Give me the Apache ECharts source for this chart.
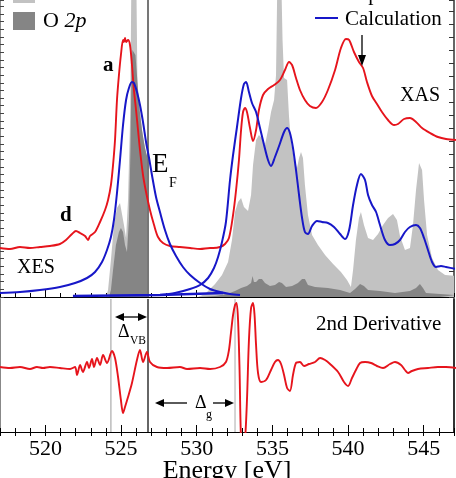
<!DOCTYPE html>
<html>
<head>
<meta charset="utf-8">
<script src="https://cdn.jsdelivr.net/npm/echarts@6/dist/echarts.min.js"></script>
<style>html,body{margin:0;padding:0;background:#fff}#c{width:456px;height:478px}</style>
</head>
<body>
<div id="c"></div>
<script>
// ---- data (energy in eV, intensity in arbitrary units) ----
const xTickLabels = [520, 525, 530, 535, 540, 545];
const energyEF = 526.78;
const energyVB = 524.33;
const energyCB = 532.53;

const expSpectrum = [[517.00,49],[517.66,48],[518.32,50],[518.98,49],[519.64,50],[520.30,51],[520.96,53],[521.36,57],[521.76,63],[522.02,66],[522.29,64],[522.62,61],[522.82,57],[522.95,61],[523.28,65],[523.61,75],[523.94,87],[524.14,97],[524.33,112],[524.47,132],[524.60,157],[524.73,197],[524.86,222],[524.99,242],[525.13,257],[525.19,255],[525.26,259],[525.33,255],[525.46,257],[525.59,252],[525.72,232],[525.85,207],[525.99,187],[526.12,167],[526.25,147],[526.45,122],[526.65,105],[526.91,87],[527.18,72],[527.44,60],[527.77,54],[528.23,51],[528.89,50],[529.56,49],[530.22,48],[530.88,49],[531.08,49],[531.54,50],[531.87,53],[532.13,59],[532.40,82],[532.60,107],[532.79,137],[532.93,167],[533.06,185],[533.19,189],[533.32,185],[533.52,169],[533.72,156],[533.92,167],[534.11,187],[534.38,202],[534.71,208],[535.11,212],[535.50,217],[535.83,227],[536.10,235],[536.30,232],[536.56,219],[536.82,207],[537.15,197],[537.48,191],[537.88,189],[538.28,195],[538.67,207],[539.14,227],[539.53,249],[539.86,258],[540.07,257],[540.39,245],[540.72,235],[540.99,229],[541.25,215],[541.58,201],[541.91,193],[542.24,185],[542.64,177],[543.04,172],[543.30,173],[543.70,178],[544.09,179],[544.49,175],[544.89,169],[545.42,164],[545.94,160],[546.47,158],[547.13,157]];

const calcXES = [[517.00,4],[518.32,5],[519.64,7],[520.96,10],[521.96,14],[522.75,19],[523.28,25],[523.74,35],[524.07,47],[524.33,60],[524.53,77],[524.73,104],[524.93,137],[525.13,172],[525.33,197],[525.52,209],[525.72,215],[525.85,214],[526.05,205],[526.25,192],[526.45,175],[526.65,155],[526.85,139],[527.04,122],[527.31,100],[527.57,85],[527.90,67],[528.23,53],[528.63,41],[529.09,30],[529.56,22],[530.22,14],[530.88,8],[531.54,5],[532.20,3],[532.86,2]];

const calcXAS = [[527.57,2],[528.56,4],[529.56,8],[530.22,12],[530.75,19],[531.14,29],[531.41,40],[531.67,55],[531.93,75],[532.20,117],[532.40,142],[532.66,170],[532.93,199],[533.12,213],[533.26,215],[533.45,205],[533.65,194],[533.92,185],[534.18,169],[534.45,152],[534.71,137],[534.91,131],[535.17,140],[535.44,151],[535.77,165],[535.97,169],[536.16,164],[536.36,149],[536.56,127],[536.76,102],[536.96,79],[537.15,65],[537.35,63],[537.62,71],[537.95,76],[538.28,75],[538.67,74],[539.07,70],[539.47,63],[539.80,58],[540.07,67],[540.33,92],[540.59,112],[540.85,123],[541.12,117],[541.32,102],[541.58,92],[541.85,85],[542.11,72],[542.44,57],[542.77,52],[543.10,53],[543.43,57],[543.76,65],[544.09,70],[544.49,72],[544.75,69],[545.02,59],[545.28,47],[545.55,35],[545.81,30],[546.14,31],[546.47,30],[547.13,28]];

const calcBase = [[521.82,1],[527.57,2],[531.74,4]];

const totalXES = [[524.00,0],[524.14,7],[524.33,37],[524.53,72],[524.73,89],[524.93,94],[525.06,92],[525.19,72],[525.33,59],[525.46,97],[525.60,180],[525.69,330],[526.00,330],[526.08,215],[526.25,185],[526.45,160],[526.65,144],[526.75,139],[526.76,0]];

const o2pXES = [[524.20,0],[524.33,7],[524.47,27],[524.66,52],[524.86,65],[524.99,69],[525.13,65],[525.26,52],[525.39,45],[525.52,77],[525.62,147],[525.69,227],[525.75,247],[525.85,249],[525.95,242],[526.05,222],[526.19,192],[526.38,167],[526.58,149],[526.75,139],[526.76,0]];

const totalXAS = [[530.08,0],[530.55,3],[531.21,13],[531.67,22],[532.07,35],[532.33,57],[532.53,85],[532.73,95],[532.93,99],[533.12,90],[533.39,86],[533.59,102],[533.72,132],[533.92,157],[534.11,162],[534.31,159],[534.51,152],[534.71,167],[534.91,185],[535.11,197],[535.24,222],[535.34,330],[535.57,330],[535.67,257],[535.77,219],[535.97,217],[536.10,180],[536.23,155],[536.43,137],[536.63,129],[536.76,139],[536.89,145],[537.02,139],[537.15,112],[537.35,82],[537.62,62],[538.01,52],[538.48,42],[539.01,33],[539.53,25],[539.93,17],[540.19,10],[540.33,27],[540.52,57],[540.72,79],[540.85,85],[541.05,72],[541.32,59],[541.65,57],[541.98,63],[542.31,72],[542.64,79],[542.97,83],[543.23,77],[543.43,61],[543.76,47],[544.09,49],[544.29,72],[544.49,107],[544.69,134],[544.89,127],[545.02,97],[545.22,62],[545.55,39],[545.94,27],[546.41,22],[547.13,21]];

const o2pXAS = [[530.22,0],[531.21,1],[532.00,3],[532.53,6],[532.93,9],[533.32,11],[533.59,14],[533.69,21],[533.78,15],[533.92,15],[534.11,18],[534.31,18],[534.51,14],[534.84,11],[535.17,12],[535.44,15],[535.63,14],[535.90,10],[536.30,11],[536.69,14],[536.96,18],[537.15,18],[537.35,12],[537.82,10],[538.67,9],[539.47,7],[540.13,4],[540.46,8],[540.79,13],[541.05,11],[541.32,7],[542.11,6],[543.10,4],[544.09,6],[544.49,9],[544.75,13],[544.95,9],[545.15,4],[546.08,3],[547.13,2]];

const deriv2 = [[517.00,65],[517.66,64],[518.32,65],[518.98,63],[519.44,65],[519.84,64],[520.30,65],[520.96,64],[521.63,63],[521.96,65],[522.09,57],[522.29,67],[522.48,60],[522.75,70],[522.88,64],[523.08,73],[523.21,65],[523.41,74],[523.61,67],[523.81,77],[524.07,69],[524.40,81],[524.60,74],[524.80,55],[524.99,32],[525.13,19],[525.26,25],[525.46,35],[525.72,49],[526.05,72],[526.25,82],[526.45,70],[526.71,80],[526.91,70],[527.37,65],[528.04,64],[528.89,65],[529.36,63],[530.22,64],[530.88,63],[531.54,65],[531.93,70],[532.13,82],[532.26,99],[532.40,117],[532.53,127],[532.63,129],[532.73,112],[532.83,62],[532.93,-8],[533.06,-18],[533.19,-8],[533.32,32],[533.45,92],[533.59,124],[533.72,129],[533.82,117],[533.92,87],[534.05,59],[534.25,50],[534.58,52],[534.91,62],[535.17,70],[535.37,72],[535.57,68],[535.77,57],[535.97,44],[536.16,41],[536.36,57],[536.56,69],[536.82,70],[537.09,66],[537.42,68],[537.82,70],[538.15,74],[538.48,72],[538.81,68],[539.34,60],[539.73,50],[540.00,46],[540.26,54],[540.52,62],[540.79,69],[541.12,70],[541.52,69],[541.91,66],[542.31,64],[542.77,68],[543.10,70],[543.50,67],[543.76,62],[543.96,59],[544.22,61],[544.62,63],[545.28,64],[545.94,65],[546.47,65],[547.13,64]];

// ---- styles ----
const RED = '#e6141c', BLUE = '#1717c8', LGRAY = '#c2c2c2', DGRAY = '#858585';
const SERIF = '"Liberation Serif", "Times New Roman", serif';

const chart = echarts.init(document.getElementById('c'), null, {renderer: 'canvas'});

function area(data, color) {
  return {type: 'line', xAxisIndex: 0, yAxisIndex: 0, data: data, symbol: 'none',
    lineStyle: {width: 0, color: color}, areaStyle: {color: color, opacity: 1}, silent: true, z: 1};
}
function curve(data, color, w, xi, yi, z) {
  return {type: 'line', xAxisIndex: xi, yAxisIndex: yi, data: data, symbol: 'none', smooth: 0.3,
    lineStyle: {width: w, color: color}, silent: true, z: z || 3};
}
function vline(e, top, color, w, xi, yi) {
  return {type: 'line', xAxisIndex: xi, yAxisIndex: yi, data: [[e, 0], [e, top]], symbol: 'none',
    lineStyle: {width: w, color: color}, silent: true, z: 2};
}

const xBase = {type: 'value', min: 517, max: 547, splitLine: {show: false}};
function txt(text, x, y, size, opts) {
  opts = opts || {};
  return {type: 'text', z: 100, style: Object.assign({text: text, x: x, y: y, fontSize: size, fontFamily: SERIF,
    fill: '#000', align: opts.align || 'left', verticalAlign: 'middle', textAlign: opts.align || 'left', textVerticalAlign: 'middle',
    fontWeight: opts.bold ? 'bold' : 'normal', fontStyle: opts.italic ? 'italic' : 'normal'}, opts.extra || {})};
}
function arrowHead(pts) { return {type: 'polygon', z: 100, shape: {points: pts}, style: {fill: '#000'}}; }
function seg(x1, y1, x2, y2, w, color) { return {type: 'line', z: 100, shape: {x1: x1, y1: y1, x2: x2, y2: y2}, style: {stroke: color || '#000', lineWidth: w || 1.3}}; }

const option = {
  backgroundColor: '#fff',
  animation: false,
  grid: [
    {left: 0, right: 2, top: 0, height: 297},
    {left: 0, right: 2, top: 299, height: 133}
  ],
  xAxis: [
    Object.assign({}, xBase, {gridIndex: 0, position: 'bottom', interval: 1,
      axisLine: {show: true, lineStyle: {color: '#000', width: 1}},
      axisTick: {show: true, inside: true, length: 4, lineStyle: {color: '#000'}}, axisLabel: {show: false}}),
    Object.assign({}, xBase, {gridIndex: 0, position: 'bottom', axisLine: {show: false},
      axisTick: {show: true, inside: true, length: 7, customValues: xTickLabels, lineStyle: {color: '#000'}}, axisLabel: {show: false}}),
    Object.assign({}, xBase, {gridIndex: 1, position: 'bottom', interval: 1,
      axisLine: {show: true, lineStyle: {color: '#000', width: 1}},
      axisTick: {show: true, inside: true, length: 4, lineStyle: {color: '#000'}}, axisLabel: {show: false}}),
    Object.assign({}, xBase, {gridIndex: 1, position: 'bottom', axisLine: {show: false},
      axisTick: {show: true, inside: true, length: 7, customValues: xTickLabels, lineStyle: {color: '#000'}},
      axisLabel: {show: true, customValues: xTickLabels, margin: 6, fontSize: 22, fontFamily: SERIF, color: '#000'}}),
    Object.assign({}, xBase, {gridIndex: 1, position: 'top', interval: 1,
      axisLine: {show: false},
      axisTick: {show: true, inside: true, length: 4, lineStyle: {color: '#000'}}, axisLabel: {show: false}})
  ],
  yAxis: [
    {gridIndex: 0, type: 'value', min: 0, max: 297, show: false},
    {gridIndex: 0, type: 'value', min: 0, max: 38.82, interval: 1, position: 'left',
      axisLine: {show: true, lineStyle: {color: '#666', width: 1.5}},
      axisTick: {show: true, inside: true, length: 4, lineStyle: {color: '#444'}}, axisLabel: {show: false}, splitLine: {show: false}},
    {gridIndex: 0, type: 'value', min: 0, max: 22.85, interval: 1, position: 'right',
      axisLine: {show: true, lineStyle: {color: '#333', width: 1.5}},
      axisTick: {show: true, inside: true, length: 5, lineStyle: {color: '#333'}}, axisLabel: {show: false}, splitLine: {show: false}},
    {gridIndex: 1, type: 'value', min: 0, max: 133, show: false},
    {gridIndex: 1, type: 'value', min: 0, max: 133, position: 'left',
      axisLine: {show: true, lineStyle: {color: '#888', width: 2}}, axisTick: {show: false}, axisLabel: {show: false}, splitLine: {show: false}},
    {gridIndex: 1, type: 'value', min: 0, max: 133, position: 'right',
      axisLine: {show: true, lineStyle: {color: '#333', width: 2}}, axisTick: {show: false}, axisLabel: {show: false}, splitLine: {show: false}}
  ],
  series: [
    area(totalXES, LGRAY),
    area(totalXAS, LGRAY),
    Object.assign(area(o2pXES, DGRAY), {z: 2}),
    Object.assign(area(o2pXAS, DGRAY), {z: 2}),
    vline(energyEF, 297, '#777', 2, 0, 0),
    curve(expSpectrum, RED, 1.9, 0, 0, 3),
    curve(calcXES, BLUE, 2, 0, 0, 4),
    curve(calcXAS, BLUE, 2, 0, 0, 4),
    Object.assign(curve(calcBase, BLUE, 2.5, 0, 0, 4), {smooth: false}),
    vline(energyEF, 133, '#666', 2, 2, 3),
    vline(energyVB, 133, '#999', 1, 2, 3),
    vline(energyCB, 133, '#aaa', 1, 2, 3),
    curve(deriv2, RED, 1.9, 2, 3, 3)
  ],
  graphic: [
    // legend
    {type: 'rect', z: 100, shape: {x: 13, y: -15, width: 22, height: 18}, style: {fill: LGRAY}},
    txt('Total', 43, -7, 22, {bold: true}),
    {type: 'rect', z: 100, shape: {x: 13, y: 12, width: 22, height: 18}, style: {fill: DGRAY}},
    {type: 'text', z: 100, style: {text: '{r|O }{i|2p}', x: 43, y: 21, verticalAlign: 'middle', textVerticalAlign: 'middle',
      rich: {r: {fontSize: 22, fontFamily: SERIF, fill: '#000'}, i: {fontSize: 22, fontFamily: SERIF, fontStyle: 'italic', fill: '#000'}}}},
    seg(315, -6, 338, -6, 2, RED),
    txt('Experiment', 345, -6, 21),
    seg(315, 18, 338, 18, 2, BLUE),
    txt('Calculation', 345, 19, 21),
    // annotations upper
    seg(362, 35, 362, 58, 1.3),
    arrowHead([[358, 55], [366, 55], [362, 66]]),
    txt('XAS', 400, 96, 20),
    txt('XES', 17, 268, 20),
    txt('a', 103, 66, 21, {bold: true}),
    txt('d', 60, 216, 21, {bold: true}),
    txt('E', 152, 165, 27),
    txt('F', 169, 183, 14),
    // annotations lower
    txt('2nd Derivative', 316, 324, 21),
    seg(119, 317, 143, 317, 1.3),
    arrowHead([[115, 317], [124, 313], [124, 321]]),
    arrowHead([[147, 317], [138, 313], [138, 321]]),
    txt('\u0394', 118, 332, 18),
    txt('VB', 130, 341, 11.5),
    seg(162, 403, 187, 403, 1.3),
    arrowHead([[155, 403], [164, 399], [164, 407]]),
    seg(213, 403, 227, 403, 1.3),
    arrowHead([[234, 403], [225, 399], [225, 407]]),
    txt('\u0394', 195, 403, 18),
    txt('g', 206, 415, 12),
    // axis title
    {type: 'text', z: 100, style: {text: 'Energy [eV]', x: 227, y: 471, fontSize: 26, fontFamily: SERIF, fill: '#000',
      align: 'center', textAlign: 'center', verticalAlign: 'middle', textVerticalAlign: 'middle'}}
  ]
};
chart.setOption(option);
</script>
</body>
</html>
